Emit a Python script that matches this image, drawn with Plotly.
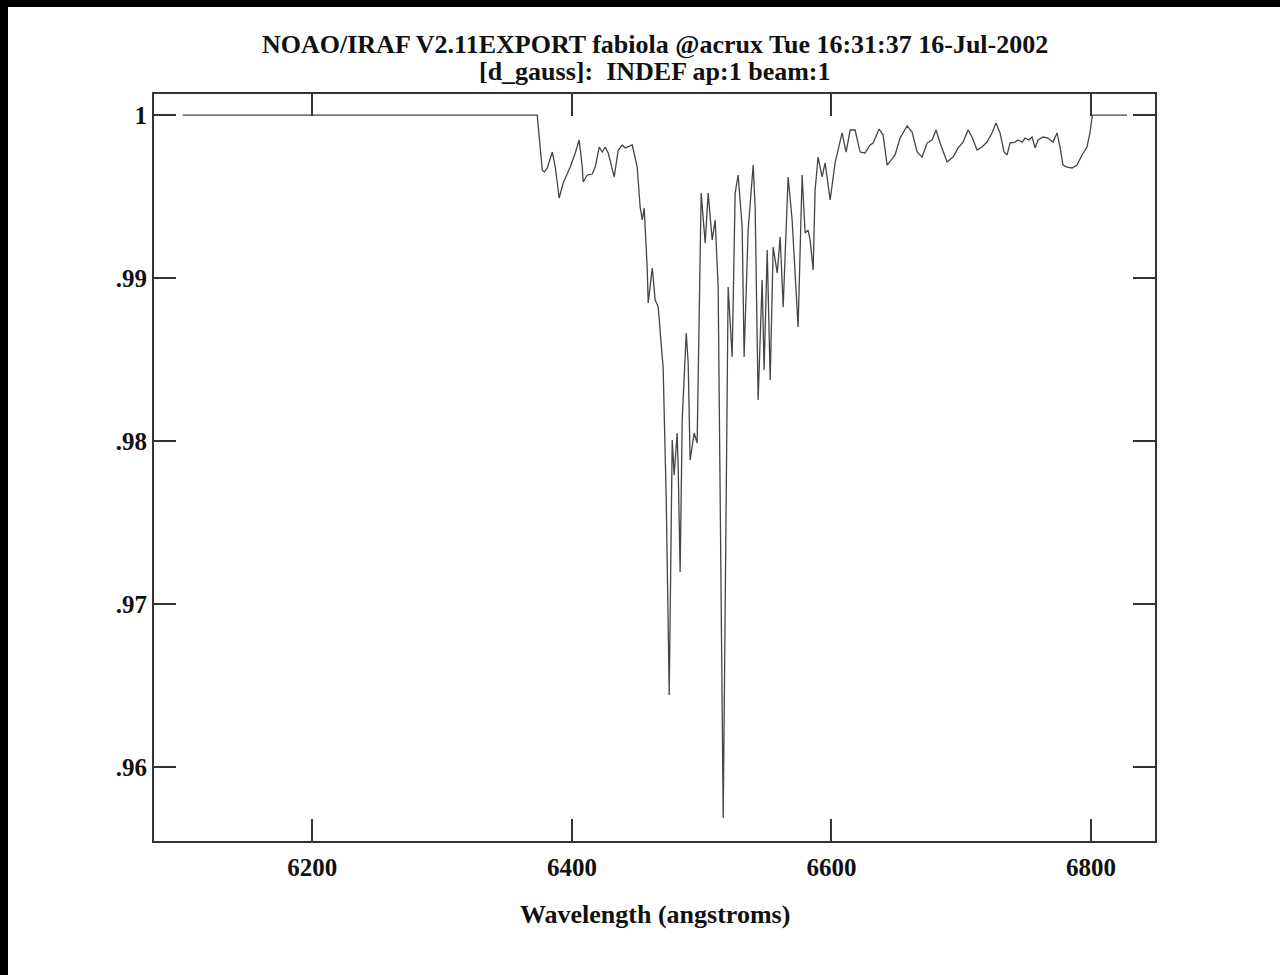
import plotly.graph_objects as go

# Spectrum: wavelength (Angstrom) and normalised flux
wavelength = [
    6100.0, 6373.3, 6374.1, 6377.2, 6378.7, 6381.0, 6384.9, 6387.2, 6390.2, 6393.3,
    6398.7, 6402.6, 6405.6, 6408.0, 6408.7, 6411.8, 6415.7, 6418.0, 6421.1, 6423.4,
    6425.7, 6428.0, 6432.6, 6435.7, 6438.8, 6441.1, 6446.5, 6450.3, 6452.6, 6454.2,
    6455.7, 6458.0, 6458.8, 6461.9, 6464.2, 6466.5, 6469.6, 6470.3, 6472.7, 6475.0,
    6477.3, 6478.8, 6481.1, 6481.9, 6483.4, 6485.0, 6488.1, 6489.6, 6491.1, 6494.2,
    6496.5, 6498.1, 6499.6, 6502.7, 6505.0, 6508.1, 6510.4, 6512.7, 6516.6, 6520.4,
    6523.5, 6525.8, 6528.1, 6531.2, 6532.7, 6535.8, 6539.7, 6541.2, 6543.5, 6546.6,
    6548.1, 6550.5, 6552.8, 6555.1, 6558.2, 6560.5, 6562.8, 6566.6, 6569.7, 6574.3,
    6577.4, 6579.7, 6582.0, 6583.6, 6585.9, 6587.4, 6589.7, 6592.8, 6595.1, 6599.0,
    6602.8, 6608.2, 6611.3, 6614.4, 6618.2, 6622.1, 6625.9, 6629.8, 6632.1, 6636.7,
    6639.8, 6642.9, 6646.7, 6649.0, 6652.9, 6658.3, 6662.1, 6666.0, 6669.8, 6673.7,
    6677.5, 6680.6, 6683.7, 6689.1, 6693.7, 6697.6, 6701.4, 6705.3, 6708.3, 6712.2,
    6716.0, 6719.9, 6723.7, 6726.8, 6729.9, 6733.0, 6735.3, 6737.6, 6741.5, 6743.8,
    6746.9, 6749.2, 6752.2, 6754.6, 6756.9, 6759.2, 6763.0, 6766.9, 6770.7, 6773.8,
    6776.1, 6778.4, 6781.5, 6785.4, 6789.2, 6793.1, 6796.9, 6799.2, 6800.8, 6801.5,
    6827.7,
]
flux = [
    1.00000, 1.00000, 0.99926, 0.99663, 0.99650, 0.99675, 0.99773, 0.99681, 0.99491, 0.99583,
    0.99681, 0.99767, 0.99847, 0.99681, 0.99589, 0.99632, 0.99638, 0.99681, 0.99804, 0.99773,
    0.99804, 0.99767, 0.99620, 0.99785, 0.99816, 0.99798, 0.99816, 0.99681, 0.99436, 0.99356,
    0.99429, 0.99067, 0.98847, 0.99061, 0.98865, 0.98822, 0.98515, 0.98454, 0.97638, 0.96442,
    0.98006, 0.97791, 0.98049, 0.97834, 0.97196, 0.98129, 0.98663, 0.98479, 0.97883, 0.98049,
    0.97988, 0.98865, 0.99521, 0.99215, 0.99521, 0.99233, 0.99356, 0.98945, 0.95687, 0.98945,
    0.98515, 0.99521, 0.99632, 0.99313, 0.98515, 0.99294, 0.99693, 0.99436, 0.98252, 0.98988,
    0.98436, 0.99172, 0.98374, 0.99190, 0.99031, 0.99252, 0.98822, 0.99620, 0.99356, 0.98699,
    0.99632, 0.99276, 0.99294, 0.99233, 0.99049, 0.99540, 0.99742, 0.99620, 0.99706, 0.99479,
    0.99706, 0.99890, 0.99773, 0.99908, 0.99908, 0.99773, 0.99767, 0.99816, 0.99828, 0.99914,
    0.99877, 0.99693, 0.99736, 0.99755, 0.99859, 0.99933, 0.99896, 0.99773, 0.99742, 0.99828,
    0.99847, 0.99908, 0.99828, 0.99712, 0.99742, 0.99798, 0.99834, 0.99908, 0.99865, 0.99785,
    0.99804, 0.99834, 0.99890, 0.99951, 0.99890, 0.99773, 0.99755, 0.99828, 0.99834, 0.99847,
    0.99834, 0.99859, 0.99847, 0.99865, 0.99798, 0.99847, 0.99865, 0.99859, 0.99834, 0.99890,
    0.99804, 0.99693, 0.99681, 0.99675, 0.99693, 0.99755, 0.99804, 0.99890, 0.99988, 1.00000,
    1.00000,
]

x_ticks = [6200, 6400, 6600, 6800]
y_ticks = [1.0, 0.99, 0.98, 0.97, 0.96]
y_tick_text = ["1", ".99", ".98", ".97", ".96"]

title_line1 = "NOAO/IRAF V2.11EXPORT fabiola @acrux Tue 16:31:37 16-Jul-2002"
title_line2 = "[d_gauss]:\u00a0\u00a0INDEF ap:1 beam:1"
x_title = "Wavelength (angstroms)"

W, H = 1280, 975
ML, MR, MT, MB = 154, 125, 94, 134
PW, PH = W - ML - MR, H - MT - MB

FONT = "Liberation Serif"
INK = "#333333"
TEXT = "#111111"


def px_x(px):
    return (px - ML) / PW


def px_y(py):
    return (H - MB - py) / PH


fig = go.Figure()
fig.add_trace(go.Scatter(
    x=wavelength, y=flux, mode="lines",
    line=dict(color="#454545", width=1.3),
    hoverinfo="x+y", showlegend=False,
))

axis_common = dict(
    showgrid=False, zeroline=False,
    showline=True, linecolor=INK, linewidth=2,
    mirror="ticks", ticks="inside", ticklen=22, tickwidth=2, tickcolor=INK,
    tickfont=dict(family=FONT, size=25, color=TEXT, weight="bold"),
)

fig.update_layout(
    width=W, height=H,
    margin=dict(l=ML, r=MR, t=MT, b=MB, pad=0),
    paper_bgcolor="white", plot_bgcolor="white",
    xaxis=dict(range=[6078, 6849.3], tickvals=x_ticks, ticklabelstandoff=3,
               **axis_common),
    yaxis=dict(range=[0.95546, 1.00129], tickvals=y_ticks, ticktext=y_tick_text,
               ticklabelstandoff=0, **axis_common),
    annotations=[
        dict(text=f"<b>{title_line1}</b>", x=0.5, y=px_y(44), xref="paper", yref="paper",
             showarrow=False, xanchor="center", yanchor="middle",
             font=dict(family=FONT, size=26, color=TEXT)),
        dict(text=f"<b>{title_line2}</b>", x=0.5, y=px_y(71), xref="paper", yref="paper",
             showarrow=False, xanchor="center", yanchor="middle",
             font=dict(family=FONT, size=26, color=TEXT)),
        dict(text=f"<b>{x_title}</b>", x=0.5, y=px_y(915), xref="paper", yref="paper",
             showarrow=False, xanchor="center", yanchor="middle",
             font=dict(family=FONT, size=26, color=TEXT)),
    ],
    shapes=[
        # dark frame strips along the top and left edges of the page
        dict(type="rect", xref="paper", yref="paper", layer="above",
             x0=px_x(0), x1=px_x(W), y0=px_y(7), y1=px_y(0),
             fillcolor="black", line=dict(width=0)),
        dict(type="rect", xref="paper", yref="paper", layer="above",
             x0=px_x(0), x1=px_x(8), y0=px_y(H), y1=px_y(0),
             fillcolor="black", line=dict(width=0)),
    ],
)

fig.write_html("out.html")
